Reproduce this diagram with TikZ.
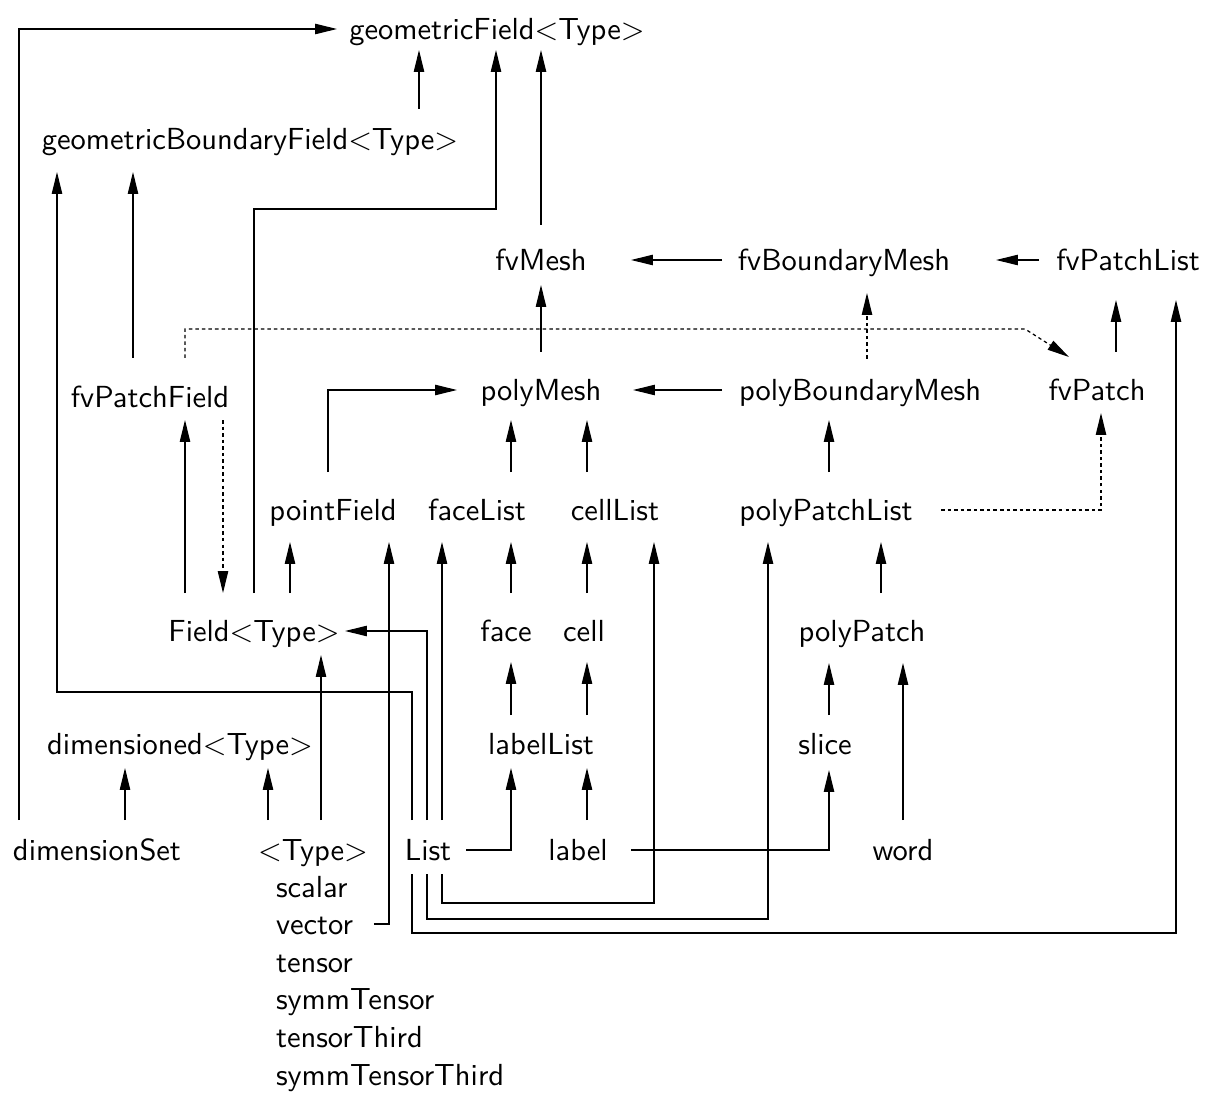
\documentclass[tikz,border=0pt]{standalone}
\usetikzlibrary{arrows.meta,calc}
\begin{document}
\begin{tikzpicture}[x=0.328pt,y=-0.328pt,
  lbl/.style={inner sep=0pt,outer sep=0pt,text height=7pt,text depth=0pt,font=\fontsize{10}{12}\selectfont\sffamily},
  lst/.style={lbl,anchor=base west},
  conn/.style={line width=0.4pt},
  arr/.style={conn,-{Triangle[length=7.2pt,width=3.4pt]}},
  darr/.style={arr,dash pattern=on 1.15pt off 1pt}]
\useasboundingbox (0,0) rectangle (1214,1095);
% nodes
\node[lbl] (gF) at (497,29) {geometricField$<$Type$>$};
\node[lbl] (gBF) at (250,139) {geometricBoundaryField$<$Type$>$};
\node[lbl] (fvMesh) at (541,260) {fvMesh};
\node[lbl] (fvBM) at (844,260) {fvBoundaryMesh};
\node[lbl] (fvPL) at (1128,260) {fvPatchList};
\node[lbl] (fvPF) at (150,397) {fvPatchField};
\node[lbl] (polyMesh) at (541,390) {polyMesh};
\node[lbl] (pBM) at (860,390) {polyBoundaryMesh};
\node[lbl] (fvPatch) at (1097,390) {fvPatch};
\node[lbl] (pointField) at (333,510) {pointField};
\node[lbl] (faceList) at (477,510) {faceList};
\node[lbl] (cellList) at (615,510) {cellList};
\node[lbl] (pPL) at (826,510) {polyPatchList};
\node[lbl] (Field) at (254,631) {Field$<$Type$>$};
\node[lbl] (face) at (506,631) {face};
\node[lbl] (cell) at (584,631) {cell};
\node[lbl] (polyPatch) at (862,631) {polyPatch};
\node[lbl] (dimd) at (180,744) {dimensioned$<$Type$>$};
\node[lbl] (labelList) at (541,744) {labelList};
\node[lbl] (slice) at (825,744) {slice};
\node[lbl] (dimSet) at (97,850) {dimensionSet};
\node[lbl] (Type) at (313,850) {$<$Type$>$};
\node[lbl] (List) at (428,850) {List};
\node[lbl] (label) at (578,850) {label};
\node[lbl] (word) at (903,850) {word};
\node[lst] (sc) at (276,897) {scalar};
\node[lst] (vec) at (276,934.6) {vector};
\node[lst] (ten) at (276,972.2) {tensor};
\node[lst] (stens) at (276,1009.8) {symmTensor};
\node[lst] (tthird) at (276,1047.4) {tensorThird};
\node[lst] (stthird) at (276,1085) {symmTensorThird};
% connectors
\draw[arr] ($(dimSet)+(-78,-30)$) |- ($(gF)+(-160,0)$);
\draw[arr] ($(gBF)+(169,-30)$) -- ($(gF)+(-78,21)$);
\draw[arr] ($(Field)+(0,-38)$) -- ($(Field)+(0,-422)$) -| ($(gF)+(-1,21)$);
\draw[arr] ($(fvMesh)+(0,-35)$) -- ($(gF)+(44,21)$);
\draw[arr] ($(List)+(-16,-30)$) -- ($(List)+(-16,-158)$) -| ($(gBF)+(-193,33)$);
\draw[arr] ($(fvPF)+(-17,-39)$) -- ($(gBF)+(-117,33)$);
\draw[arr] ($(fvBM)+(-122,0)$) -- ($(fvMesh)+(90,0)$);
\draw[arr] ($(fvPL)+(-89,0)$) -- ($(fvBM)+(152,0)$);
\draw[arr] ($(polyMesh)+(0,-38)$) -- ($(fvMesh)+(0,25)$);
\draw[darr] ($(pBM)+(7,-31)$) -- ($(fvBM)+(23,33)$);
\draw[arr] ($(fvPatch)+(19,-38)$) -- ($(fvPL)+(-12,40)$);
\draw[arr] ($(List)+(-16,24)$) -- ($(List)+(-16,83)$) -| ($(fvPL)+(48,40)$);
\draw[darr] ($(fvPF)+(35,-39)$) |- ($(fvPatch)+(-72,-61)$) -- ($(fvPatch)+(-28,-33)$);
\draw[arr] ($(pBM)+(-138,0)$) -- ($(polyMesh)+(92,0)$);
\draw[arr] ($(pointField)+(-5,-38)$) |- ($(polyMesh)+(-84,0)$);
\draw[arr] ($(faceList)+(34,-38)$) -- ($(polyMesh)+(-30,30)$);
\draw[arr] ($(cellList)+(-28,-38)$) -- ($(polyMesh)+(46,30)$);
\draw[arr] ($(pPL)+(3,-38)$) -- ($(pBM)+(-31,30)$);
\draw[darr] ($(pPL)+(115,0)$) -| ($(fvPatch)+(4,23)$);
\draw[arr] ($(Field)+(-69,-38)$) -- ($(fvPF)+(35,23)$);
\draw[darr] ($(fvPF)+(73,23)$) -- ($(Field)+(-31,-38)$);
\draw[arr] ($(Field)+(36,-38)$) -- ($(pointField)+(-43,32)$);
\draw[arr] ($(vec.east)+(21,0)$) -| ($(pointField)+(56,32)$);
\draw[arr] ($(List)+(14,-30)$) -- ($(faceList)+(-35,32)$);
\draw[arr] ($(face)+(5,-38)$) -- ($(faceList)+(34,32)$);
\draw[arr] ($(cell)+(3,-38)$) -- ($(cellList)+(-28,32)$);
\draw[arr] ($(List)+(14,24)$) -- ($(List)+(14,53)$) -| ($(cellList)+(39,32)$);
\draw[arr] ($(List)+(-1,24)$) -- ($(List)+(-1,69)$) -| ($(pPL)+(-58,32)$);
\draw[arr] ($(polyPatch)+(19,-38)$) -- ($(pPL)+(55,32)$);
\draw[arr] ($(List)+(-1,-30)$) |- ($(Field)+(91,0)$);
\draw[arr] ($(Type)+(8,-30)$) -- ($(Field)+(67,24)$);
\draw[arr] ($(labelList)+(-30,-29)$) -- ($(face)+(5,31)$);
\draw[arr] ($(labelList)+(46,-29)$) -- ($(cell)+(3,31)$);
\draw[arr] ($(List)+(38,0)$) -| ($(labelList)+(-30,24)$);
\draw[arr] ($(label)+(9,-30)$) -- ($(labelList)+(46,24)$);
\draw[arr] ($(label)+(53,0)$) -| ($(slice)+(4,26)$);
\draw[arr] ($(dimSet)+(28,-30)$) -- ($(dimd)+(-55,24)$);
\draw[arr] ($(Type)+(-45,-30)$) -- ($(dimd)+(88,24)$);
\draw[arr] ($(slice)+(4,-29)$) -- ($(polyPatch)+(-33,32)$);
\draw[arr] ($(word)+(0,-30)$) -- ($(polyPatch)+(41,32)$);
\end{tikzpicture}
\end{document}
